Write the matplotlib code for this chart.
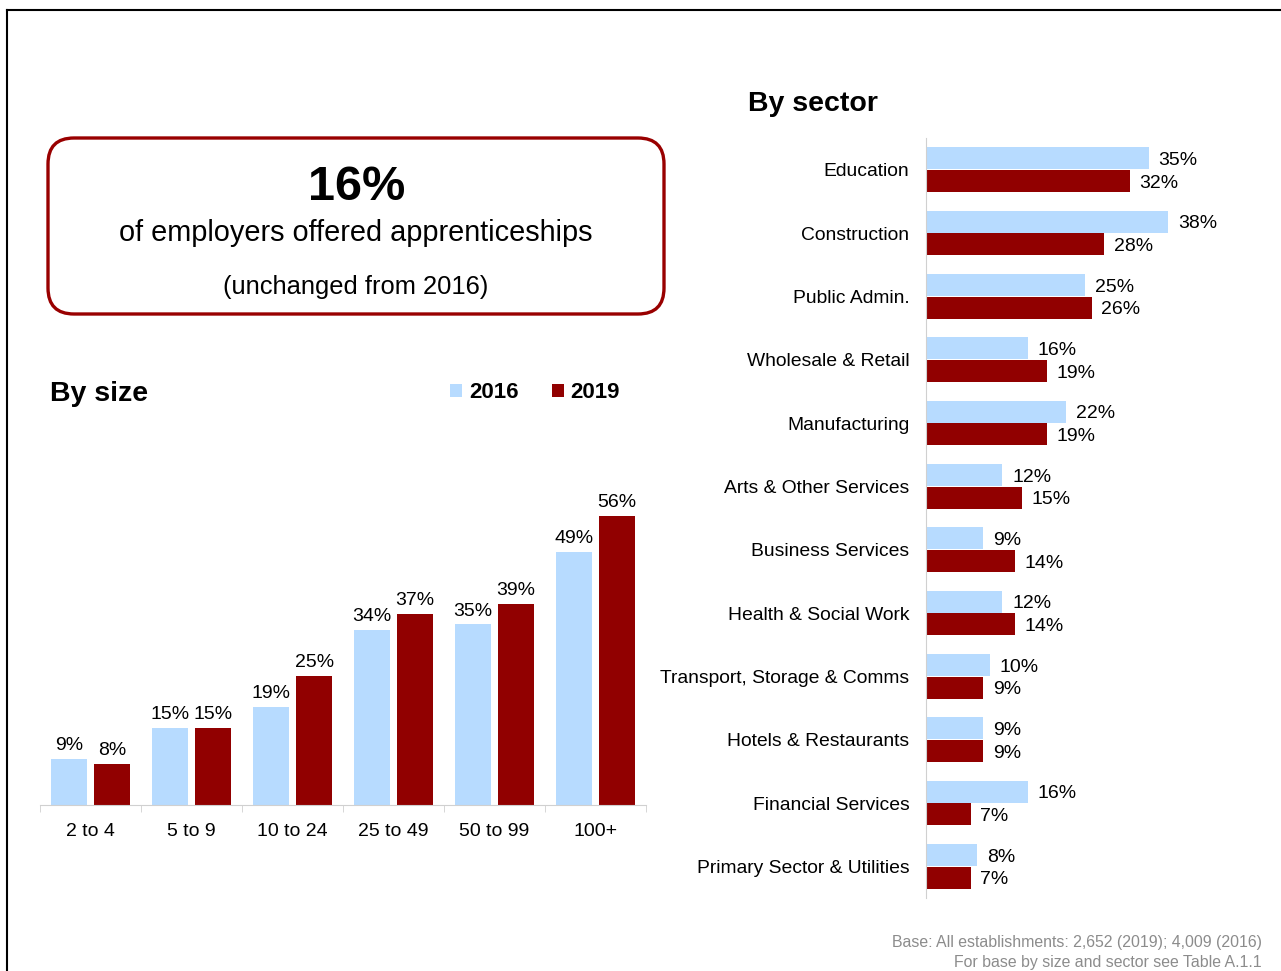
import matplotlib
matplotlib.use("Agg")
import matplotlib.pyplot as plt
import numpy as np
from matplotlib.patches import FancyBboxPatch

plt.rcParams['font.family'] = ['Liberation Sans', 'DejaVu Sans']

# data
sizes = ['2 to 4', '5 to 9', '10 to 24', '25 to 49', '50 to 99', '100+']
size_2016 = [9, 15, 19, 34, 35, 49]
size_2019 = [8, 15, 25, 37, 39, 56]

sectors = ['Education', 'Construction', 'Public Admin.', 'Wholesale & Retail',
           'Manufacturing', 'Arts & Other Services', 'Business Services',
           'Health & Social Work', 'Transport, Storage & Comms',
           'Hotels & Restaurants', 'Financial Services',
           'Primary Sector & Utilities']
sector_2016 = [35, 38, 25, 16, 22, 12, 9, 12, 10, 9, 16, 8]
sector_2019 = [32, 28, 26, 19, 19, 15, 14, 14, 9, 9, 7, 7]

BLUE = '#B7DBFF'
RED = '#910000'
GREY = '#D0D0D0'

W, H = 1281, 971
fig = plt.figure(figsize=(W / 100, H / 100), dpi=100)

# background layer in pixel units for frame, box and headings
bg = fig.add_axes([0, 0, 1, 1])
bg.set_xlim(0, W)
bg.set_ylim(H, 0)
bg.axis('off')
bg.plot([7, W], [10, 10], color='black', lw=1.5)
bg.plot([7, 7], [10, H], color='black', lw=1.5)

box = FancyBboxPatch((48, 138), 616, 176, boxstyle='round,pad=0,rounding_size=26',
                     fc='white', ec='#990000', lw=2.4)
bg.add_patch(box)
bg.text(357, 188, '16%', ha='center', va='center', fontsize=35, fontweight='bold')
bg.text(356, 233, 'of employers offered apprenticeships', ha='center', va='center', fontsize=20.8)
bg.text(356, 287, '(unchanged from 2016)', ha='center', va='center', fontsize=18.4)
bg.text(50, 394, 'By size', ha='left', va='center', fontsize=20.5, fontweight='bold')
bg.text(748, 104, 'By sector', ha='left', va='center', fontsize=20.5, fontweight='bold')
bg.text(1262, 942, 'Base: All establishments: 2,652 (2019); 4,009 (2016)',
        ha='right', va='center', fontsize=11.4, color='#8C8C8C')
bg.text(1262, 962, 'For base by size and sector see Table A.1.1',
        ha='right', va='center', fontsize=11.4, color='#8C8C8C')

# by size
ax1 = fig.add_axes([40 / W, 1 - 805 / H, 606 / W, 325 / H])
x = np.arange(len(sizes))
bw = 0.355
b1 = ax1.bar(x - 0.215, size_2016, bw, color=BLUE, label='2016')
b2 = ax1.bar(x + 0.215, size_2019, bw, color=RED, label='2019')
for bars, vals in [(b1, size_2016), (b2, size_2019)]:
    for rect, v in zip(bars, vals):
        ax1.annotate(f'{v}%', (rect.get_x() + rect.get_width() / 2, v),
                     xytext=(0, 3.5), textcoords='offset points',
                     ha='center', va='bottom', fontsize=14)
ax1.set_xlim(-0.5, len(sizes) - 0.5)
ax1.set_ylim(0, 63)
ax1.set_xticks(x)
ax1.set_xticklabels(sizes, fontsize=14)
ax1.set_xticks(np.arange(len(sizes) + 1) - 0.5, minor=True)
ax1.tick_params(axis='x', which='major', length=0, pad=13)
ax1.tick_params(axis='x', which='minor', length=5, color=GREY)
ax1.set_yticks([])
for s in ['top', 'right', 'left']:
    ax1.spines[s].set_visible(False)
ax1.spines['bottom'].set_color(GREY)
ax1.patch.set_alpha(0)

ax1.legend(handles=[b1, b2], loc='center', bbox_to_anchor=(535 / W, 1 - 393 / H),
           bbox_transform=fig.transFigure, ncol=2, frameon=False,
           prop={'weight': 'bold', 'size': 16}, handlelength=0.55, handleheight=0.55,
           handletextpad=0.3, columnspacing=1.5)

# by sector
ax2 = fig.add_axes([926 / W, 1 - 898 / H, 324 / W, 760 / H])
y = np.arange(len(sectors))
bh = 0.35
h1 = ax2.barh(y - 0.18, sector_2016, bh, color=BLUE)
h2 = ax2.barh(y + 0.18, sector_2019, bh, color=RED)
for bars, vals in [(h1, sector_2016), (h2, sector_2019)]:
    for rect, v in zip(bars, vals):
        ax2.annotate(f'{v}%', (v, rect.get_y() + rect.get_height() / 2),
                     xytext=(7, -1.5), textcoords='offset points',
                     ha='left', va='center', fontsize=14)
ax2.set_xlim(0, 324 / 6.37)
ax2.set_ylim(len(sectors) - 0.5, -0.5)
ax2.set_yticks(y)
ax2.set_yticklabels(sectors, fontsize=13.9)
ax2.tick_params(axis='y', length=0, pad=12)
ax2.set_xticks([])
for s in ['top', 'right', 'bottom']:
    ax2.spines[s].set_visible(False)
ax2.spines['left'].set_color(GREY)
ax2.patch.set_alpha(0)

fig.savefig('out.png', dpi=100)
